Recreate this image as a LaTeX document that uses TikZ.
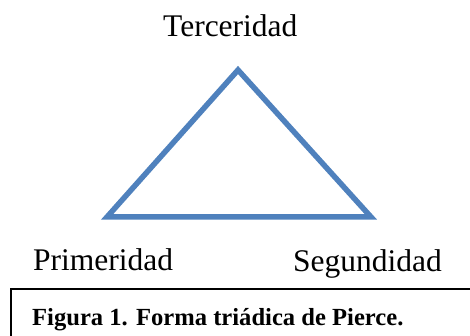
\documentclass[tikz,border=0pt]{standalone}
\usepackage{fontspec}
\setmainfont{Liberation Serif}
\definecolor{triblue}{HTML}{4F81BD}
\begin{document}
\begin{tikzpicture}[x=1pt,y=-1pt,
  lbl/.style={anchor=base west,inner sep=0pt,font=\fontsize{31.5}{36}\selectfont},
  captext/.style={anchor=base west,inner sep=0pt,font=\fontsize{24.6}{28}\selectfont\bfseries},
  tri/.style={draw=triblue,line width=5.5pt,line join=miter}]
\clip (0,0) rectangle (470,336);
\useasboundingbox (0,0) rectangle (470,336);
\coordinate (top) at (238,70);
\coordinate (left) at (107,217);
\coordinate (right) at (371,217);
\draw[tri] (top) -- (left) -- (right) -- cycle;
\node[lbl] (ter) at (163,37) {Terceridad};
\node[lbl] (pri) at (33,270) {Primeridad};
\node[lbl] (seg) at (293,271.5) {Segundidad};
\coordinate (bl) at (11,345);
\coordinate (tl) at (11,289);
\coordinate (tr) at (480,289);
\draw[line width=1.5pt] (bl) -- (tl) -- (tr);
\node[captext] (caption) at (32,325) {Figura 1. Forma triádica de Pierce.};
\end{tikzpicture}
\end{document}
